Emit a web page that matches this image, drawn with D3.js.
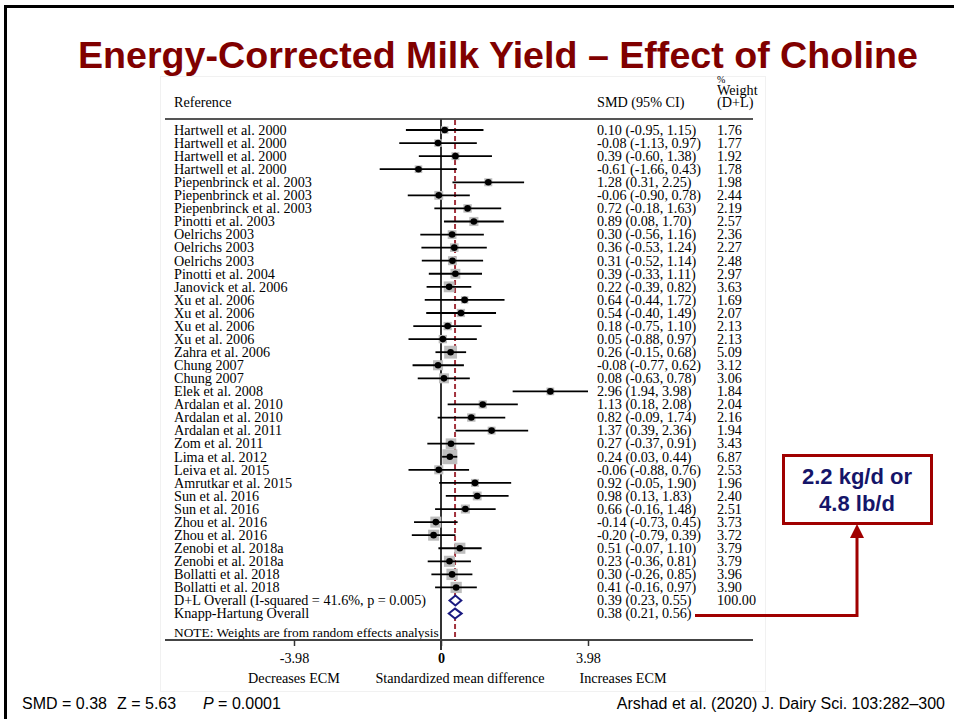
<!DOCTYPE html>
<html>
<head>
<meta charset="utf-8">
<script src="https://cdn.jsdelivr.net/npm/d3@7/dist/d3.min.js"></script>
<style>
  html, body { margin: 0; padding: 0; background: #fff; }
  svg { display: block; white-space: pre; }
</style>
</head>
<body>
<div id="chart"></div>
<script>
// Study-level data: Energy-corrected milk yield, effect of rumen-protected choline
const studies = [
  "Hartwell et al. 2000", "Hartwell et al. 2000", "Hartwell et al. 2000", "Hartwell et al. 2000",
  "Piepenbrinck et al. 2003", "Piepenbrinck et al. 2003", "Piepenbrinck et al. 2003",
  "Pinotti et al. 2003", "Oelrichs 2003", "Oelrichs 2003", "Oelrichs 2003",
  "Pinotti et al. 2004", "Janovick et al. 2006", "Xu et al. 2006", "Xu et al. 2006",
  "Xu et al. 2006", "Xu et al. 2006", "Zahra et al. 2006", "Chung 2007", "Chung 2007",
  "Elek et al. 2008", "Ardalan et al. 2010", "Ardalan et al. 2010", "Ardalan et al. 2011",
  "Zom et al. 2011", "Lima et al. 2012", "Leiva et al. 2015", "Amrutkar et al. 2015",
  "Sun et al. 2016", "Sun et al. 2016", "Zhou et al. 2016", "Zhou et al. 2016",
  "Zenobi et al. 2018a", "Zenobi et al. 2018a", "Bollatti et al. 2018", "Bollatti et al. 2018"
];
const smd = [0.10, -0.08, 0.39, -0.61, 1.28, -0.06, 0.72, 0.89, 0.30, 0.36, 0.31, 0.39, 0.22,
  0.64, 0.54, 0.18, 0.05, 0.26, -0.08, 0.08, 2.96, 1.13, 0.82, 1.37, 0.27, 0.24, -0.06, 0.92,
  0.98, 0.66, -0.14, -0.20, 0.51, 0.23, 0.30, 0.41];
const ciLow = [-0.95, -1.13, -0.60, -1.66, 0.31, -0.90, -0.18, 0.08, -0.56, -0.53, -0.52, -0.33,
  -0.39, -0.44, -0.40, -0.75, -0.88, -0.15, -0.77, -0.63, 1.94, 0.18, -0.09, 0.39, -0.37, 0.03,
  -0.88, -0.05, 0.13, -0.16, -0.73, -0.79, -0.07, -0.36, -0.26, -0.16];
const ciHigh = [1.15, 0.97, 1.38, 0.43, 2.25, 0.78, 1.63, 1.70, 1.16, 1.24, 1.14, 1.11, 0.82,
  1.72, 1.49, 1.10, 0.97, 0.68, 0.62, 0.78, 3.98, 2.08, 1.74, 2.36, 0.91, 0.44, 0.76, 1.90,
  1.83, 1.48, 0.45, 0.39, 1.10, 0.81, 0.85, 0.97];
const weights = [1.76, 1.77, 1.92, 1.78, 1.98, 2.44, 2.19, 2.57, 2.36, 2.27, 2.48, 2.97, 3.63,
  1.69, 2.07, 2.13, 2.13, 5.09, 3.12, 3.06, 1.84, 2.04, 2.16, 1.94, 3.43, 6.87, 2.53, 1.96,
  2.40, 2.51, 3.73, 3.72, 3.79, 3.79, 3.96, 3.90];

// Pooled estimates
const pooledLabels = ["D+L Overall  (I-squared = 41.6%, p = 0.005)", "Knapp-Hartung Overall"];
const pooledEst = [0.39, 0.38];
const pooledLow = [0.23, 0.21];
const pooledHigh = [0.55, 0.56];
const pooledWeight = ["100.00", ""];

const tickValues = [-3.98, 0, 3.98];
const tickLabels = ["-3.98", "0", "3.98"];

const W = 954, H = 719;
const svg = d3.select("#chart").append("svg").attr("width", W).attr("height", H);

const serif = "'Liberation Serif', 'Times New Roman', serif";
const sans = "'Liberation Sans', Arial, sans-serif";
const maroon = "#800000";
const arrowRed = "#a00000";

// Slide frame
svg.append("rect").attr("x", 5.5).attr("y", 6.5).attr("width", 1000).attr("height", 800)
  .attr("fill", "none").attr("stroke", "#000").attr("stroke-width", 3);

// Title
svg.append("text").attr("x", 498).attr("y", 68).attr("text-anchor", "middle")
  .attr("font-family", sans).attr("font-weight", "bold").attr("font-size", 37.5)
  .attr("textLength", 840).attr("lengthAdjust", "spacingAndGlyphs")
  .attr("fill", maroon).text("Energy-Corrected Milk Yield \u2013 Effect of Choline");

// Faint border of the embedded plot panel
svg.append("rect").attr("x", 160.5).attr("y", 76.5).attr("width", 605).attr("height", 615)
  .attr("fill", "none").attr("stroke", "#f1f1f1").attr("stroke-width", 1);

// Scales
const x = d3.scaleLinear().domain([-3.98, 3.98]).range([294, 588]);
const rowStep = 13.07;
const y = d3.scaleLinear().domain([0, 1]).range([130, 130 + rowStep]);

const g = svg.append("g");
const fs = 14.2;
const base = 4.8;

// Column headers
const hdr = g.append("g").attr("font-family", serif).attr("font-size", fs).attr("fill", "#000");
hdr.append("text").attr("x", 174).attr("y", 107).text("Reference");
hdr.append("text").attr("x", 597).attr("y", 107).text("SMD (95% CI)");
hdr.append("text").attr("x", 717).attr("y", 83).attr("font-size", 10).text("%");
hdr.append("text").attr("x", 717).attr("y", 95).text("Weight");
hdr.append("text").attr("x", 717).attr("y", 107).text("(D+L)");

// Header rule and axis rule
const xl = 165, xr = 753;
const yTop = 119, yAxis = 640;
g.append("line").attr("x1", xl).attr("x2", xr).attr("y1", yTop).attr("y2", yTop)
  .attr("stroke", "#555").attr("stroke-width", 2);

// Null line and pooled-effect line
g.append("line").attr("x1", x(0)).attr("x2", x(0)).attr("y1", yTop).attr("y2", 650)
  .attr("stroke", "#333").attr("stroke-width", 2);
g.append("line").attr("x1", x(pooledEst[1])).attr("x2", x(pooledEst[1])).attr("y1", yTop + 1).attr("y2", yAxis)
  .attr("stroke", "#a3333d").attr("stroke-width", 2).attr("stroke-dasharray", "5,3");

// Study rows
const fmt = v => v.toFixed(2);
const rows = studies.map((s, i) => ({ s, i, est: smd[i], lo: ciLow[i], hi: ciHigh[i], w: weights[i] }));

const rowG = g.selectAll("g.row").data(rows).join("g").attr("class", "row");

// weight boxes (area proportional to weight)
rowG.append("rect")
  .attr("x", d => x(d.est) - 2.85 * Math.sqrt(d.w))
  .attr("y", d => y(d.i) - 2.85 * Math.sqrt(d.w))
  .attr("width", d => 5.7 * Math.sqrt(d.w))
  .attr("height", d => 5.7 * Math.sqrt(d.w))
  .attr("fill", "#bdbdbd");

rowG.append("line")
  .attr("x1", d => x(d.lo)).attr("x2", d => x(d.hi))
  .attr("y1", d => y(d.i)).attr("y2", d => y(d.i))
  .attr("stroke", "#000").attr("stroke-width", 1.8);

rowG.append("circle")
  .attr("cx", d => x(d.est)).attr("cy", d => y(d.i)).attr("r", 3.3)
  .attr("fill", "#000");

rowG.append("text").attr("x", 174).attr("y", d => y(d.i) + base)
  .attr("font-family", serif).attr("font-size", fs).text(d => d.s);
rowG.append("text").attr("x", 597).attr("y", d => y(d.i) + base)
  .attr("font-family", serif).attr("font-size", fs)
  .text(d => `${fmt(d.est)} (${fmt(d.lo)}, ${fmt(d.hi)})`);
rowG.append("text").attr("x", 717).attr("y", d => y(d.i) + base)
  .attr("font-family", serif).attr("font-size", fs).text(d => fmt(d.w));

// Pooled rows
pooledLabels.forEach((lab, k) => {
  const yy = y(studies.length + k);
  const dh = 5;
  g.append("path")
    .attr("d", `M${x(pooledLow[k])},${yy} L${x(pooledEst[k])},${yy - dh} L${x(pooledHigh[k])},${yy} L${x(pooledEst[k])},${yy + dh} Z`)
    .attr("fill", "#fff").attr("stroke", "#1a1a80").attr("stroke-width", 2);
  g.append("text").attr("x", 174).attr("y", yy + base).attr("font-family", serif).attr("font-size", fs).text(lab);
  g.append("text").attr("x", 597).attr("y", yy + base).attr("font-family", serif).attr("font-size", fs)
    .text(`${fmt(pooledEst[k])} (${fmt(pooledLow[k])}, ${fmt(pooledHigh[k])})`);
  if (pooledWeight[k]) {
    g.append("text").attr("x", 717).attr("y", yy + base).attr("font-family", serif).attr("font-size", fs).text(pooledWeight[k]);
  }
});

g.append("text").attr("x", 174).attr("y", 637).attr("font-family", serif).attr("font-size", 13.4)
  .text("NOTE: Weights are from random effects analysis");

// Bottom axis
g.append("line").attr("x1", xl).attr("x2", xr).attr("y1", yAxis).attr("y2", yAxis)
  .attr("stroke", "#444").attr("stroke-width", 2);
const axis = d3.axisBottom(x).tickValues(tickValues).tickSize(6).tickPadding(7)
  .tickFormat((d, i) => tickLabels[i]);
const axG = g.append("g").attr("transform", `translate(0,${yAxis})`).call(axis);
axG.select(".domain").remove();
axG.selectAll(".tick line").attr("stroke", "#333").attr("stroke-width", 1.5);
axG.selectAll(".tick text").attr("font-family", serif).attr("font-size", fs).attr("fill", "#000")
  .attr("font-weight", (d) => d === 0 ? "bold" : "normal");

const axLab = g.append("g").attr("font-family", serif).attr("font-size", fs).attr("text-anchor", "middle");
axLab.append("text").attr("x", x(-3.98)).attr("y", 683).text("Decreases ECM");
axLab.append("text").attr("x", 460).attr("y", 683).text("Standardized mean difference");
axLab.append("text").attr("x", 623).attr("y", 683).text("Increases ECM");

// Callout connecting the pooled estimate to the milk-yield equivalent
const yK = y(studies.length + 1) + 2;
svg.append("path")
  .attr("d", `M695,${yK} H857 V537`)
  .attr("fill", "none").attr("stroke", arrowRed).attr("stroke-width", 3);
svg.append("path").attr("d", "M850,538 L857,524 L864,538 Z").attr("fill", arrowRed);

svg.append("rect").attr("x", 783.5).attr("y", 455.5).attr("width", 148).attr("height", 68)
  .attr("fill", "#fff").attr("stroke", arrowRed).attr("stroke-width", 3);
const call = svg.append("g").attr("font-family", sans).attr("font-weight", "bold").attr("font-size", 22)
  .attr("fill", "#151569").attr("text-anchor", "middle");
call.append("text").attr("x", 857).attr("y", 484).text("2.2 kg/d or");
call.append("text").attr("x", 857).attr("y", 511).text("4.8 lb/d");

// Footer statistics and citation
const foot = svg.append("g").attr("font-family", sans).attr("font-size", 16).attr("fill", "#000");
foot.append("text").attr("x", 22).attr("y", 709).text("SMD = 0.38");
foot.append("text").attr("x", 117).attr("y", 709).text("Z =  5.63");
const pText = foot.append("text").attr("x", 203).attr("y", 709);
pText.append("tspan").attr("font-style", "italic").text("P");
pText.append("tspan").text(" = 0.0001");
foot.append("text").attr("x", 945).attr("y", 709).attr("text-anchor", "end")
  .text("Arshad et al. (2020) J. Dairy Sci. 103:282\u2013300");
</script>
</body>
</html>
